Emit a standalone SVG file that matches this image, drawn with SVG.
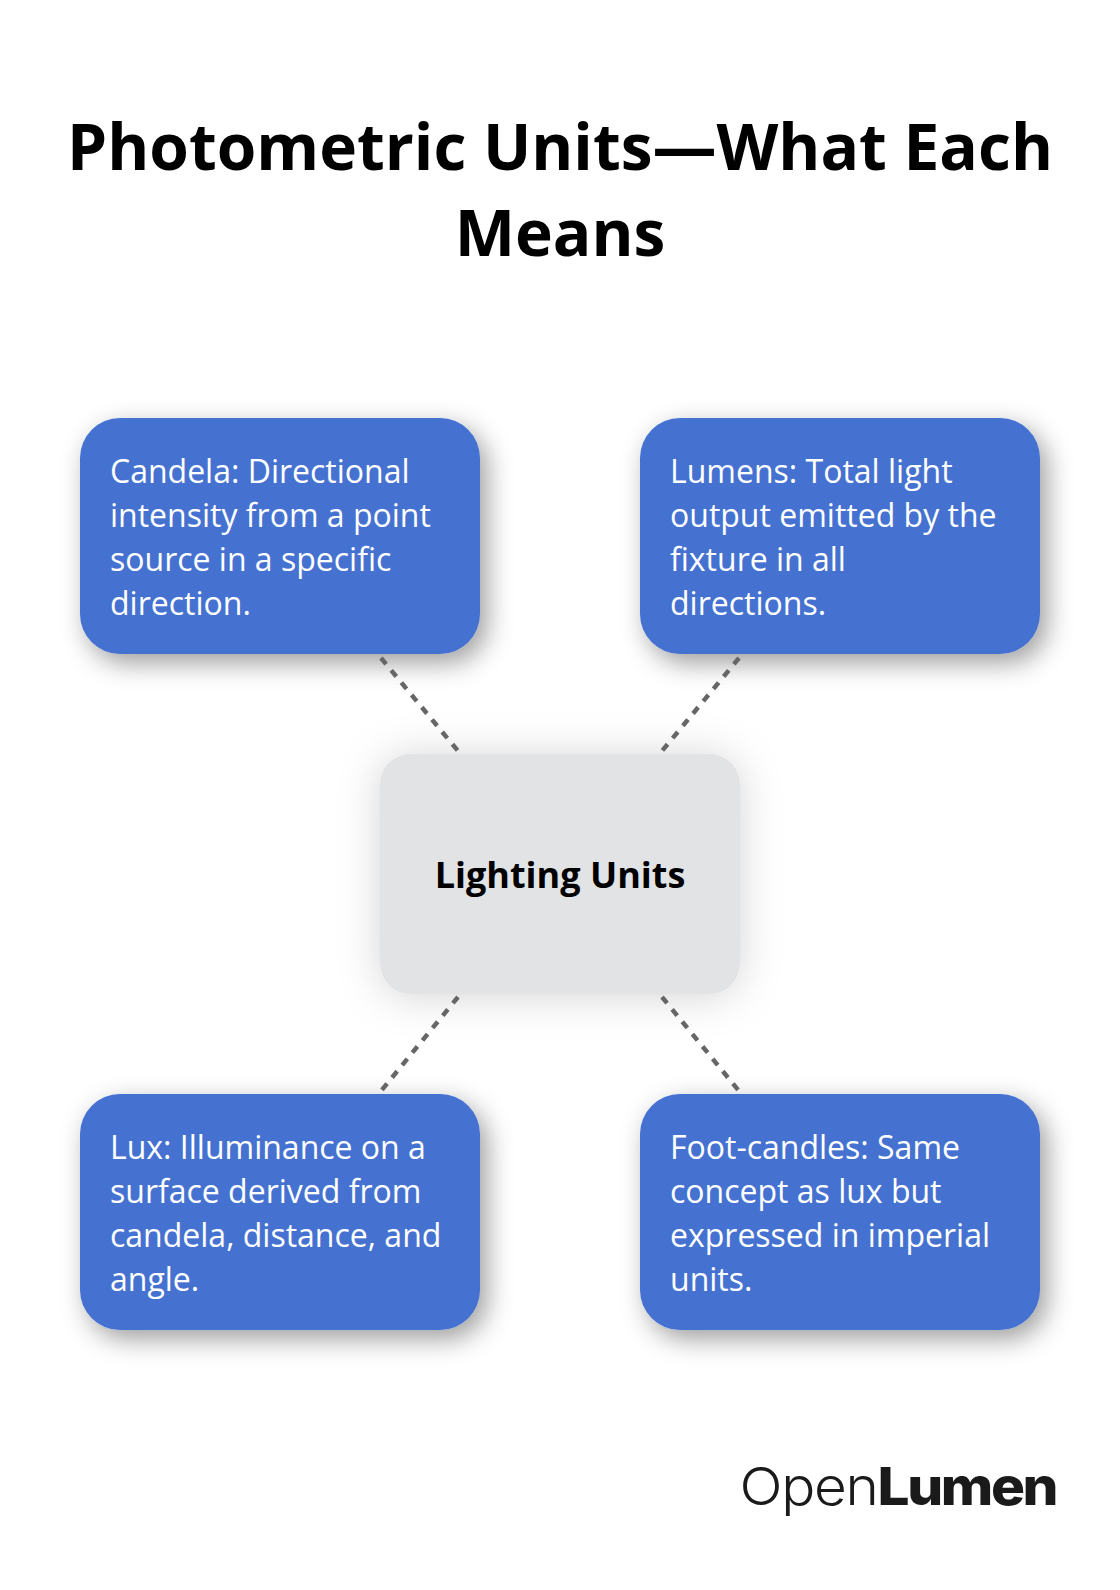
<svg xmlns="http://www.w3.org/2000/svg" width="1120" height="1590" viewBox="0 0 1120 1590">
<style>
.t{font-family:"Open Sans","Noto Sans",sans-serif}
.title{font-size:64px;font-weight:700;fill:#000;text-anchor:middle}
.body{font-size:32px;fill:#fff}
.blue{fill:#4472d1;filter:url(#s1)}
.conn{stroke:#666;stroke-width:4.5;stroke-dasharray:8 8;fill:none}
.logo{font-family:"Inter","Liberation Sans",sans-serif;font-size:52px;fill:#1a1a1a}
</style>
<defs>
<filter id="s1" x="-25%" y="-35%" width="150%" height="180%"><feDropShadow dx="7" dy="9" stdDeviation="13" flood-color="#000" flood-opacity=".38"/></filter>
<filter id="s2" x="-40%" y="-40%" width="180%" height="180%"><feDropShadow dx="0" dy="2" stdDeviation="21" flood-color="#000" flood-opacity=".17"/></filter>
</defs>
<rect width="1120" height="1590" fill="#fff"/>
<text class="t title" x="560" y="170">Photometric Units—What Each</text>
<text class="t title" x="560" y="256">Means</text>
<g id="center"><rect x="380" y="754" width="360" height="240" rx="30" fill="#e2e3e5" filter="url(#s2)"/><text class="t" x="560" y="888" font-size="36" font-weight="700" text-anchor="middle" fill="#000">Lighting Units</text></g>
<g id="candela"><rect class="blue" x="80" y="418" width="400" height="236" rx="40"/>
<text class="t body" x="110" y="482.5">Candela: Directional</text><text class="t body" x="110" y="526.5">intensity from a point</text><text class="t body" x="110" y="570.5">source in a specific</text><text class="t body" x="110" y="614.5">direction.</text></g>
<g id="lumens"><rect class="blue" x="640" y="418" width="400" height="236" rx="40"/>
<text class="t body" x="670" y="482.5">Lumens: Total light</text><text class="t body" x="670" y="526.5">output emitted by the</text><text class="t body" x="670" y="570.5">fixture in all</text><text class="t body" x="670" y="614.5">directions.</text></g>
<g id="lux"><rect class="blue" x="80" y="1094" width="400" height="236" rx="40"/>
<text class="t body" x="110" y="1158.5">Lux: Illuminance on a</text><text class="t body" x="110" y="1202.5">surface derived from</text><text class="t body" x="110" y="1246.5">candela, distance, and</text><text class="t body" x="110" y="1290.5">angle.</text></g>
<g id="footcandles"><rect class="blue" x="640" y="1094" width="400" height="236" rx="40"/>
<text class="t body" x="670" y="1158.5">Foot-candles: Same</text><text class="t body" x="670" y="1202.5">concept as lux but</text><text class="t body" x="670" y="1246.5">expressed in imperial</text><text class="t body" x="670" y="1290.5">units.</text></g>
<g id="connectors">
<line class="conn" x1="381" y1="658" x2="458" y2="751"/>
<line class="conn" x1="739" y1="658" x2="662" y2="751"/>
<line class="conn" x1="458" y1="997" x2="381" y2="1091"/>
<line class="conn" x1="662" y1="997" x2="739" y2="1091"/>
</g>
<g id="logo"><text class="logo" transform="translate(739.5 1505) scale(1.09 1)"><tspan font-weight="350" letter-spacing="-1.2">Open</tspan><tspan font-weight="800" letter-spacing="-2.2">Lumen</tspan></text></g>
</svg>
